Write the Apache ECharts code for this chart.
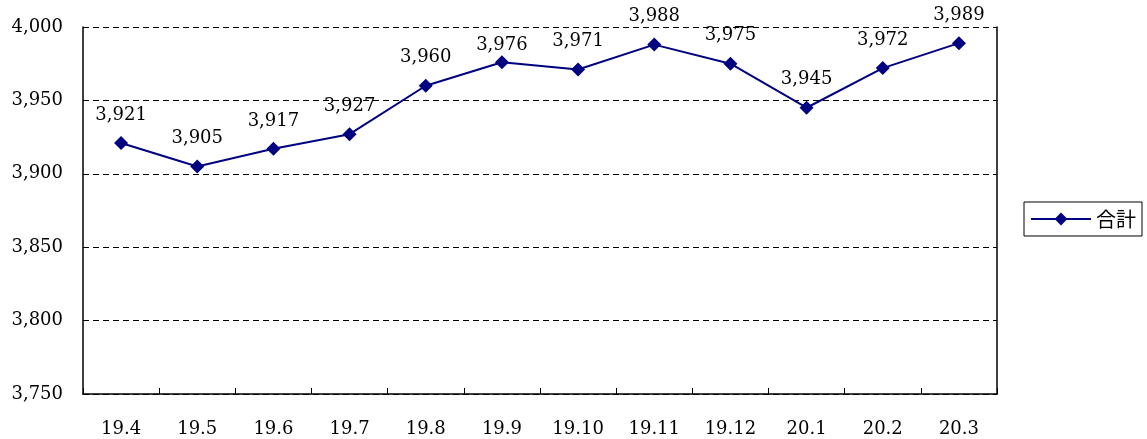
<!DOCTYPE html>
<html><head><meta charset="utf-8">
<script src="https://cdn.jsdelivr.net/npm/echarts@6/dist/echarts.min.js"></script>
<style>html,body{margin:0;padding:0;background:#fff}#c{width:1147px;height:439px}</style>
</head><body><div id="c"></div>
<script>
const categories = ['19.4','19.5','19.6','19.7','19.8','19.9','19.10','19.11','19.12','20.1','20.2','20.3'];
const totals = [3921,3905,3917,3927,3960,3976,3971,3988,3975,3945,3972,3989];
const seriesName = '合計';
const fmt = v => v.toLocaleString('en-US');
const serif = '"DejaVu Serif", "Liberation Serif", serif';
const chart = echarts.init(document.getElementById('c'), null, {renderer:'canvas'});
const seriesData = totals.map((v, i) => i === 5 ? {value: v, label: {distance: 1}} : v);
chart.setOption({
  animation:false,
  backgroundColor:'#fff',
  grid:{left:83,right:150,top:27,bottom:45,containLabel:false},
  legend:{
    data:[seriesName], right:5, top:202, orient:'vertical',
    borderColor:'#000', borderWidth:1, padding:[7,6,7,6], itemWidth:60, itemHeight:16, itemGap:0,
    textStyle:{fontFamily:'"Noto Sans CJK JP", sans-serif', fontSize:20, color:'#000'}
  },
  xAxis:{
    type:'category', data:categories, boundaryGap:true,
    axisLine:{lineStyle:{color:'#000',width:1.5}},
    axisTick:{show:true,inside:true,length:6,lineStyle:{color:'#000',width:1}},
    axisLabel:{color:'#000',fontFamily:serif,fontSize:18,margin:26}
  },
  yAxis:[{
    type:'value', min:3750, max:4000, interval:50,
    axisLine:{show:true,lineStyle:{color:'#000',width:1.5}},
    axisTick:{show:false},
    axisLabel:{color:'#000',fontFamily:serif,fontSize:18,margin:20,formatter:v=>fmt(v)},
    splitLine:{show:true,lineStyle:{color:'#000',type:[6,4],width:1}}
  },{
    type:'value', min:3750, max:4000, interval:50, position:'right',
    axisLine:{show:true,lineStyle:{color:'#000',width:1.5}},
    axisTick:{show:false}, axisLabel:{show:false}, splitLine:{show:false}
  }],
  series:[{
    name:seriesName, type:'line', data:seriesData, yAxisIndex:0,
    symbol:'diamond', symbolSize:14,
    lineStyle:{color:'#000080',width:2},
    itemStyle:{color:'#000080'},
    label:{show:true,position:'top',distance:12,color:'#000',fontFamily:serif,fontSize:18,formatter:p=>fmt(p.value)}
  }]
});
</script></body></html>
